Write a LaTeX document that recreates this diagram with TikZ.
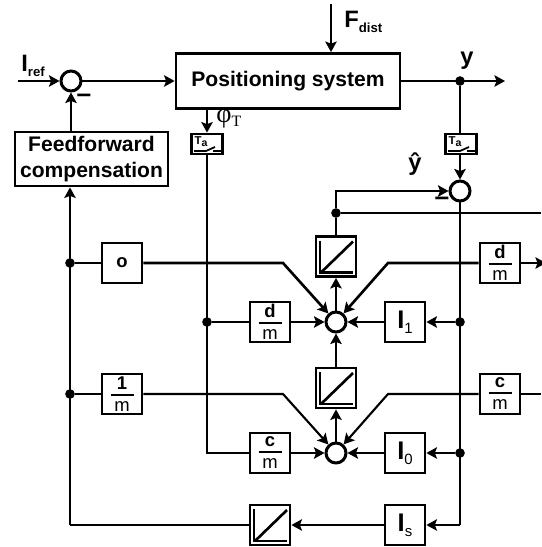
\documentclass[tikz,border=0pt]{standalone}
\usepackage{fontspec}
\setmainfont{Liberation Sans}
\newfontfamily\greekfont{Liberation Serif}
\usepackage{amsmath}
\usetikzlibrary{arrows.meta, positioning, calc}

\newcommand{\ratio}[2]{$\genfrac{}{}{1.2pt}{1}{\hbox to 0.46cm{\hss\rule[-1.3pt]{0pt}{1pt}\textbf{#1}\hss}}{\hbox{\rule{0pt}{7.6pt}#2}}$}
\newcommand{\indexed}[2]{\textbf{#1}\raisebox{-2.8pt}{\fontsize{8.5}{8.5}\selectfont #2}}

\begin{document}
\begin{tikzpicture}[
  x=0.02cm, y=-0.02cm,
  >={Stealth[length=6pt,width=6.5pt,inset=1.2pt]},
  signal/.style={line width=1.5pt},
  thinsig/.style={line width=1.2pt},
  block/.style={draw, line width=1.6pt, inner sep=0pt, minimum width=0.8cm, minimum height=0.8cm, align=center, font=\fontsize{10.5}{10.5}\selectfont},
  wide/.style={block, font=\fontsize{12}{14.5}\selectfont\bfseries},
  gainI/.style={block, font=\fontsize{14.5}{14.5}\selectfont},
  sampler/.style={draw, line width=1.6pt, minimum width=0.62cm, minimum height=0.4cm, inner sep=0pt},
  sumnode/.style={circle, draw, line width=1.7pt, minimum size=0.4cm, inner sep=0pt},
  junction/.style={circle, fill=black, minimum size=5.5pt, inner sep=0pt},
  label/.style={font=\fontsize{13.5}{13.5}\selectfont, inner sep=0pt},
  minus/.style={font=\fontsize{15}{15}\selectfont\bfseries, inner sep=0pt},
]
\useasboundingbox (0,0) rectangle (541,547);

% --- Top row ---
\node[sumnode] (sumRef) at (71,81) {};
\node[wide, minimum width=4.48cm, minimum height=1.1cm] (plant) at (288,81) {Positioning system};
\node[wide, minimum width=3.06cm, minimum height=1.08cm] (feedforward) at (91.5,159) {Feedforward\\compensation};
\node[sampler] (samplerT) at (207,144) {};
\node[sampler] (samplerY) at (461,144) {};
\node[sumnode] (sumY) at (460,191) {};

% --- Gain blocks ---
\node[block] (gainZero) at (122,263) {\textbf{o}};
\node[block] (gainInv) at (122,394) {\ratio{1}{m}};
\node[block] (gainDL) at (270,322) {\ratio{d}{m}};
\node[block] (gainCL) at (270,453) {\ratio{c}{m}};
\node[block] (gainDR) at (500,263) {\ratio{d}{m}};
\node[block] (gainCR) at (500,394) {\ratio{c}{m}};
\node[gainI] (gainOne) at (405,322) {\indexed{I}{1}};
\node[gainI] (gainNull) at (405,453) {\indexed{I}{0}};
\node[gainI] (gainS) at (405,525) {\indexed{I}{s}};

% --- Sums and integrators ---
\node[sumnode] (sumUp) at (336,322) {};
\node[sumnode] (sumLow) at (336,453) {};
\node[block] (convUp) at (336,256.5) {};
\node[block] (convLow) at (336,388) {};
\node[block] (convBot) at (270,525) {};

\foreach \c in {convUp, convLow, convBot} {
  \begin{scope}[shift={(\c)}]
    \draw[line width=1.5pt] (-16,-16) -- (-16,16) -- (17,16);
    \draw[line width=1.5pt] (-15,16) -- (17,-15);
  \end{scope}
}

% --- Samplers ---
\foreach \c in {samplerT, samplerY} {
  \begin{scope}[shift={(\c)}]
    \node[font=\fontsize{6.5}{6.5}\selectfont\bfseries, inner sep=0pt] (\c text) at (-6,-2.5) {T\raisebox{-1.2pt}{\fontsize{6}{6}\selectfont a}};
    \draw[line width=1pt] (-13,7) -- (-1,7) -- (8,3);
    \draw[line width=1.3pt] (6,7) -- (14,7);
  \end{scope}
}

% --- Junctions and free ends ---
\node[junction] (dotY) at (460,81) {};
\node[junction] (dotHat) at (336,213) {};
\node[junction] (dotZero) at (70,263) {};
\node[junction] (dotInv) at (70,394) {};
\node[junction] (dotT) at (207,322) {};
\node[junction] (dotOne) at (460,322) {};
\node[junction] (dotNull) at (460,453) {};
\coordinate (inRef) at (18,81);
\coordinate (inDist) at (331,4);
\coordinate (outY) at (505,81);
\coordinate (edgeHat) at (541,213);
\coordinate (edgeD) at (546,263);
\coordinate (edgeC) at (541,394);
\coordinate (bendA) at (283,263);
\coordinate (bendB) at (388,263);
\coordinate (bendC) at (283,394);
\coordinate (bendD) at (388,394);
\coordinate (cornerT) at (207,453);
\coordinate (cornerY) at (460,525);
\coordinate (cornerL) at (70,525);
\coordinate (cornerH) at (336,191);

% --- Top connectors ---
\draw[->, signal] (inRef) -- (sumRef);
\draw[->, signal] (sumRef) -- (plant);
\draw[->, signal] (inDist) -- (plant.north -| inDist);
\draw[->, signal] (plant) -- (outY);
\draw[->, signal] (feedforward.north -| sumRef) -- (sumRef);
\draw[->, signal] (plant.south -| samplerT) -- (samplerT);
\draw[signal] (dotY) -- (dotY |- samplerY.north);
\draw[->, signal] (dotY |- samplerY.south) -- (sumY);
\draw[->, signal] (convUp.north) -- (dotHat) -- (cornerH) -- (sumY);
\draw[signal] (dotHat) -- (edgeHat);

% --- Left feedback ---
\draw[->, thinsig] (cornerL) -- (cornerL |- feedforward.south);
\draw[thinsig] (dotZero) -- (gainZero);
\draw[thinsig] (dotInv) -- (gainInv);
\draw[thinsig] (cornerL) -- (convBot);
\draw[->, thinsig] (gainS) -- (convBot);

% --- Inputs to the sums ---
\draw[->, signal] (gainZero) -- (bendA) -- (sumUp);
\draw[->, signal] (gainDR) -- (bendB) -- (sumUp);
\draw[->, thinsig] (gainInv) -- (bendC) -- (sumLow);
\draw[->, thinsig] (gainCR) -- (bendD) -- (sumLow);
\draw[->, signal] (gainDL) -- (sumUp);
\draw[->, signal] (gainCL) -- (sumLow);
\draw[->, thinsig] (gainOne) -- (sumUp);
\draw[->, signal] (gainNull) -- (sumLow);
\draw[->, thinsig] (sumUp) -- (convUp);
\draw[->, thinsig] (convLow) -- (sumUp);
\draw[->, thinsig] (sumLow) -- (convLow);

% --- Verticals ---
\draw[signal] (samplerT) -- (cornerT) -- (gainCL);
\draw[signal] (dotT) -- (gainDL);
\draw[signal] (sumY) -- (cornerY);
\draw[->, thinsig] (cornerY) -- (gainS);
\draw[->, thinsig] (dotOne) -- (gainOne);
\draw[->, signal] (dotNull) -- (gainNull);
\draw[->, thinsig] (gainDR) -- (edgeD);
\draw[thinsig] (gainCR) -- (edgeC);

% --- Labels ---
\node[label, anchor=base west] (labelRef) at (21,72) {\textbf{I}\raisebox{-2.8pt}{\fontsize{7.5}{7.5}\selectfont\bfseries ref}};
\node[label, anchor=base west] (labelDist) at (344,28) {\textbf{F}\raisebox{-2.8pt}{\fontsize{7.5}{7.5}\selectfont\bfseries dist}};
\node[label, anchor=base] (labelY) at (467,65) {\textbf{y}};
\node[label, anchor=base] (labelHat) at (415,171) {\textbf{ŷ}};
\node[label, anchor=base west] (labelPhi) at (216,123) {\greekfont\fontsize{15}{15}\selectfont φ\raisebox{-2pt}{\fontsize{9}{9}\selectfont T}};
\node[minus] (minusRef) at (84,98) {--};
\node[minus] (minusY) at (442,201) {--};
\end{tikzpicture}
\end{document}
